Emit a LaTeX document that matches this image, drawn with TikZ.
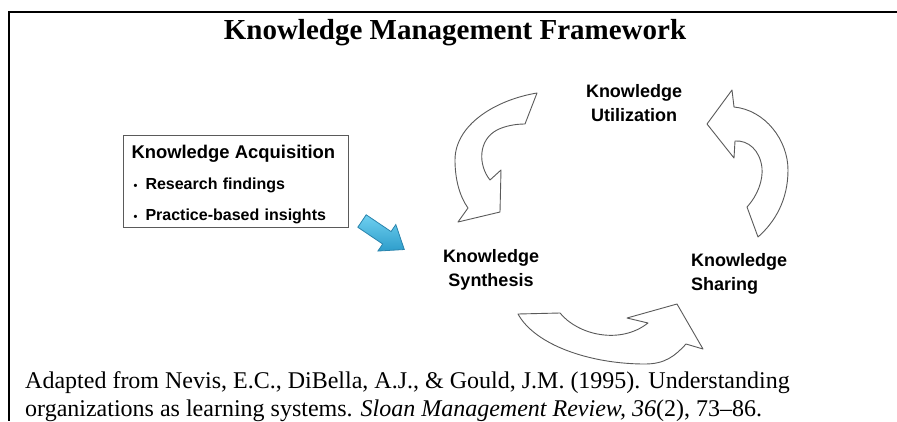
\documentclass[tikz,border=0pt]{standalone}
\usepackage{fontspec}
\setmainfont{Liberation Serif}
\setsansfont{Liberation Sans}

\definecolor{kmgray}{HTML}{5A5A5A}
\definecolor{kmblue}{HTML}{2E9DCB}
\definecolor{kmbluelight}{HTML}{6FD0F0}
\definecolor{kmbluedark}{HTML}{2A84AD}

\newcommand{\kmbullet}{\hspace*{2pt}\makebox[12pt][l]{\fontsize{11}{11}\selectfont\textbullet}}

\tikzset{
	kmlabel/.style={font=\sffamily\bfseries\fontsize{18}{24}\selectfont, inner sep=0pt, anchor=north},
	cyclearrow/.style={draw=kmgray, line width=0.9, fill=white, line join=round},
}

\begin{document}
\begin{tikzpicture}[x=1pt,y=-1pt]
	\useasboundingbox (0,0) rectangle (897,421);
	\draw[line width=2.5] (897,12) -- (9,12) -- (9,421);
	\node[font=\bfseries\fontsize{29}{34}\selectfont, anchor=base, inner sep=0pt] (title) at (455,39) {Knowledge Management Framework};
	
	\node[draw=kmgray, line width=1, anchor=north west, minimum height=92, inner xsep=8, text width=209, align=left, font=\sffamily\bfseries\fontsize{16}{31}\selectfont] (acq) at (123,135) {\rule{0pt}{19.5pt}{\fontsize{18.4}{31}\selectfont Knowledge Acquisition}\\ \kmbullet Research findings\\ \kmbullet Practice-based insights};
	
	\node[kmlabel, align=center] (util) at (634,84) {Knowledge\\Utilization};
	\node[kmlabel, align=center] (synth) at (491,249) {Knowledge\\Synthesis};
	\node[kmlabel, align=left, anchor=north west] (share) at (691,253) {Knowledge\\Sharing};
	
	% synthesis -> utilization
	\draw[cyclearrow] (537,93) .. controls (495,100) and (455,125) .. (455,160) .. controls (455,180) and (460,197) .. (468,208) -- (458,222) -- (500,212) -- (501,170) -- (490,180) .. controls (478,165) and (478,140) .. (497,130) .. controls (505,126) and (515,124) .. (525,124) -- cycle;
	% sharing -> utilization
	\draw[cyclearrow] (707,124) -- (732,90) -- (734,107) .. controls (765,110) and (788,140) .. (788,170) .. controls (788,200) and (775,222) .. (758,237) -- (747,207) .. controls (758,195) and (763,180) .. (762,168) .. controls (760,150) and (748,140) .. (735,141) -- (734,158) -- cycle;
	% synthesis -> sharing
	\draw[cyclearrow] (518,314) -- (560,313) .. controls (578,335) and (620,345) .. (648,323) -- (627,318) -- (677,304) -- (703,349) -- (686,344) .. controls (675,356) and (665,364) .. (645,364) .. controls (590,364) and (535,345) .. (518,314) -- cycle;
	
	\coordinate (bluetail) at (362,221);
	\begin{scope}[shift={(bluetail)}, rotate=-34]
		\draw[kmbluedark, line width=0.8, top color=kmbluelight, bottom color=kmblue] (0,-7.5) -- (30,-7.5) -- (30,-16) -- (51,0) -- (30,16) -- (30,7.5) -- (0,7.5) -- cycle;
	\end{scope}
	
	\node[anchor=base west, inner sep=0pt, align=left, font=\fontsize{24}{28}\selectfont] (cite) at (25,416) {Adapted from Nevis, E.C., DiBella, A.J., \& Gould, J.M. (1995). Understanding\\organizations as learning systems. \textit{Sloan Management Review, 36}(2), 73--86.};
\end{tikzpicture}
\end{document}
